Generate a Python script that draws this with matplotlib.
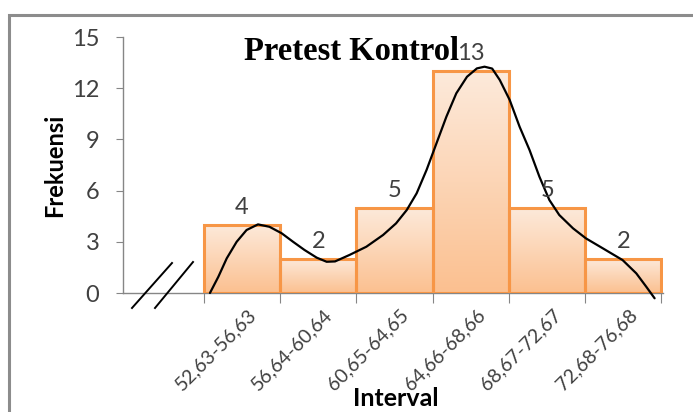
import numpy as np
import matplotlib
matplotlib.use("Agg")
import matplotlib.pyplot as plt
from matplotlib.lines import Line2D
from matplotlib.patches import Rectangle

categories = ["52,63-56,63", "56,64-60,64", "60,65-64,65",
              "64,66-68,66", "68,67-72,67", "72,68-76,68"]
frequencies = [4, 2, 5, 13, 5, 2]
y_ticks = [0, 3, 6, 9, 12, 15]

# smooth frequency curve (x in category units)
curve_x = [-0.42, -0.31, -0.20, -0.07, 0.06, 0.21, 0.36, 0.52, 0.67, 0.82,
           0.98, 1.11, 1.22, 1.41, 1.63, 1.85, 2.02, 2.16, 2.29, 2.42,
           2.55, 2.68, 2.81, 2.95, 3.08, 3.18, 3.28, 3.38, 3.51, 3.64,
           3.77, 3.90, 4.03, 4.16, 4.34, 4.51, 4.73, 4.99, 5.17, 5.30,
           5.41]
curve_y = [0.0, 0.95, 2.03, 3.0, 3.69, 4.02, 3.88, 3.50, 3.0, 2.52,
           2.07, 1.83, 1.85, 2.23, 2.71, 3.40, 4.08, 4.86, 5.84, 7.21,
           8.77, 10.33, 11.70, 12.67, 13.16, 13.26, 13.15, 12.48, 11.31, 9.74,
           8.38, 6.81, 5.45, 4.57, 3.79, 3.20, 2.62, 1.93, 1.15, 0.37,
           -0.31]

W, H = 693, 412
fig = plt.figure(figsize=(W / 100, H / 100), dpi=100)
fig.patch.set_facecolor("white")

# outer chart frame
frame = Rectangle((9 / W, -0.1), 1.2, (H - 15) / H + 0.1, transform=fig.transFigure,
                  fill=False, edgecolor="#8c8c8c", lw=2.2)
fig.patches.append(frame)

ax = fig.add_axes([123 / W, (H - 293) / H, 540 / W, 256 / H])

xs = np.arange(len(categories))
grad = np.linspace(0, 1, 256).reshape(-1, 1)
top_c = np.array([0xfd, 0xea, 0xdb]) / 255
bot_c = np.array([0xfb, 0xc0, 0x90]) / 255
img = (top_c[None, None, :] * (1 - grad[:, :, None]) + bot_c[None, None, :] * grad[:, :, None])

bars = ax.bar(xs, frequencies, width=1.0, facecolor="none", edgecolor="#f79646",
              linewidth=2.2, zorder=3)
for b in bars:
    x0 = b.get_x()
    h = b.get_height()
    ax.imshow(img, extent=(x0, x0 + b.get_width(), 0, h), aspect="auto",
              origin="upper", zorder=2, interpolation="bilinear")
ax.set_xlim(-1.56, 5.52)
ax.set_ylim(0, 15)

ax.plot(curve_x, curve_y, color="black", lw=1.6, zorder=5, clip_on=False,
        solid_capstyle="round", solid_joinstyle="round")

lab_font = "Lato"
for x, v in zip(xs, frequencies):
    ax.annotate(str(v), (x, v), xytext=(0, 5), textcoords="offset points",
                ha="center", va="bottom", fontsize=17, color="#404040",
                family=lab_font, zorder=6)

for s in ["top", "right"]:
    ax.spines[s].set_visible(False)
for s in ["left", "bottom"]:
    ax.spines[s].set_color("#868686")
    ax.spines[s].set_linewidth(1.0)

ax.set_yticks(y_ticks)
ax.set_yticklabels([str(t) for t in y_ticks], family=lab_font, fontsize=17,
                   color="#404040")
ax.tick_params(axis="y", length=5, color="#868686", pad=12)

ax.set_xticks(np.arange(-0.5, len(categories), 1.0))
ax.set_xticklabels([])
ax.tick_params(axis="x", length=7, color="#868686")
for x, c in zip(xs, categories):
    ax.text(x + 0.07, -0.75, c, rotation=45, ha="right", va="top",
            rotation_mode="anchor", fontsize=14, family=lab_font, color="#404040",
            transform=ax.transData)

# axis break marks
for (x0, y0, x1, y1) in [(132, 308, 172, 263), (155, 308, 193, 262)]:
    fig.add_artist(Line2D([x0 / W, x1 / W], [1 - y0 / H, 1 - y1 / H],
                          transform=fig.transFigure, color="black", lw=1.4))

fig.text(352 / W, 1 - 52 / H, "Pretest Kontrol", ha="center", va="center",
         fontsize=23.5, fontweight="bold", family="Liberation Serif", color="black")
fig.text(55 / W, 1 - 165 / H, "Frekuensi", rotation=90, ha="center", va="center",
         fontsize=17, fontweight="bold", family=lab_font, color="black")
fig.text(396 / W, 1 - 399 / H, "Interval", ha="center", va="center",
         fontsize=18, fontweight="bold", family=lab_font, color="black")

fig.savefig("out.png", dpi=100)
